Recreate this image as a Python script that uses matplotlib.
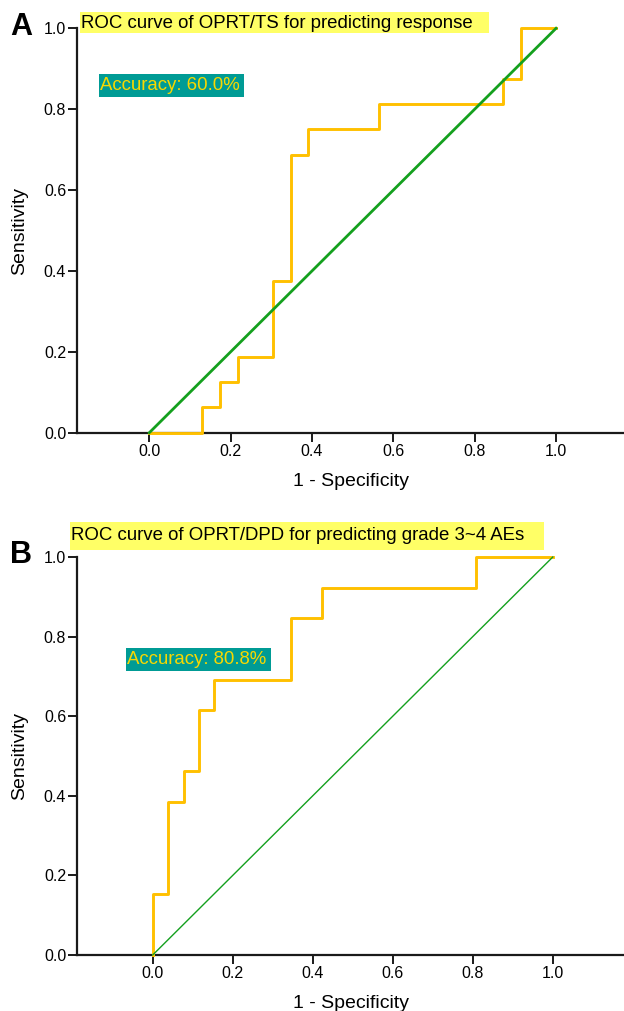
import numpy as np
import matplotlib
matplotlib.use('Agg')
import matplotlib.pyplot as plt
from matplotlib.patches import Rectangle

plt.rcParams['font.family'] = ['Liberation Sans', 'DejaVu Sans']

#%% Datos

# A: OPRT/TS para predecir respuesta (vertices de la curva ROC)
fpr_a = [0.0, 0.130, 0.130, 0.174, 0.174, 0.217, 0.217, 0.304, 0.304, 0.348,
         0.348, 0.391, 0.391, 0.565, 0.565, 0.870, 0.870, 0.913, 0.913, 1.0]
tpr_a = [0.0, 0.0, 0.0625, 0.0625, 0.125, 0.125, 0.1875, 0.1875, 0.375, 0.375,
         0.6875, 0.6875, 0.75, 0.75, 0.8125, 0.8125, 0.875, 0.875, 1.0, 1.0]
titulo_a = 'ROC curve of OPRT/TS for predicting response'
acc_a = 'Accuracy: 60.0%'

# B: OPRT/DPD para predecir AEs grado 3~4
fpr_b = [0.0, 0.0, 0.038, 0.038, 0.077, 0.077, 0.115, 0.115, 0.154, 0.154,
         0.346, 0.346, 0.423, 0.423, 0.808, 0.808, 1.0]
tpr_b = [0.0, 0.154, 0.154, 0.385, 0.385, 0.462, 0.462, 0.615, 0.615, 0.692,
         0.692, 0.846, 0.846, 0.923, 0.923, 1.0, 1.0]
titulo_b = 'ROC curve of OPRT/DPD for predicting grade 3~4 AEs'
acc_b = 'Accuracy: 80.8%'

diag = [0.0, 1.0]
ticks = [0.0, 0.2, 0.4, 0.6, 0.8, 1.0]

naranja = '#FFC000'
verde = '#14A01E'
amarillo = '#FFFF66'
turquesa = '#009B95'
dorado = '#F8D800'

W, H = 624, 1011
fig = plt.figure(figsize=(W/100, H/100), dpi=100)


def caja(x0, y0, x1, y1, color):
    # rectangulo en pixeles (y desde arriba)
    fig.patches.append(Rectangle((x0/W, 1 - y1/H), (x1 - x0)/W, (y1 - y0)/H,
                                 transform=fig.transFigure, fc=color, ec='none',
                                 zorder=5))


def texto(x, y, s, **kw):
    fig.text(x/W, 1 - y/H, s, zorder=6, **kw)


def ejes(rect, xlim, fpr, tpr, lw_diag):
    ax = fig.add_axes(rect)
    ax.plot(fpr, tpr, color=naranja, lw=2.1, clip_on=False, zorder=3)
    ax.plot(diag, diag, color=verde, lw=lw_diag, clip_on=False, zorder=4)
    ax.set_xlim(xlim)
    ax.set_ylim(0, 1)
    ax.spines['top'].set_visible(False)
    ax.spines['right'].set_visible(False)
    for s in ['left', 'bottom']:
        ax.spines[s].set_linewidth(1.6)
        ax.spines[s].set_color('#1a1a1a')
    ax.set_xticks(ticks)
    ax.set_yticks(ticks)
    ax.set_xticklabels(['%.1f' % t for t in ticks])
    ax.set_yticklabels(['%.1f' % t for t in ticks])
    ax.tick_params(direction='out', length=6.5, width=1.4, labelsize=11.5,
                   color='#1a1a1a', pad=1.5)
    ax.set_ylabel('Sensitivity', fontsize=14, labelpad=11)
    ax.set_xlabel('1 - Specificity', fontsize=14, labelpad=10)
    ax.patch.set_alpha(0)
    return ax


#%% Panel A
ax1 = ejes([77.3/W, 578.3/H, 1 - 77.3/W, 404.4/H], (-0.177, 1.167),
           fpr_a, tpr_a, 2.0)
caja(80, 12, 489, 33, amarillo)
texto(81, 23, titulo_a, fontsize=13.4, va='center', ha='left', color='black')
caja(99, 74, 244, 97, turquesa)
texto(100, 86, acc_a, fontsize=13.4, va='center', ha='left', color=dorado)
texto(10, 27, 'A', fontsize=22, fontweight='bold', va='center', ha='left')

#%% Panel B
ax2 = ejes([77.3/W, 56/H, 1 - 77.3/W, 398/H], (-0.1885, 1.178),
           fpr_b, tpr_b, 1.0)
caja(70, 522, 544, 550, amarillo)
texto(71, 536, titulo_b, fontsize=13.4, va='center', ha='left', color='black')
caja(126, 648, 271, 671, turquesa)
texto(127, 660, acc_b, fontsize=13.4, va='center', ha='left', color=dorado)
texto(10, 555, 'B', fontsize=22, fontweight='bold', va='center', ha='left')

fig.savefig('out.png', dpi=100)
